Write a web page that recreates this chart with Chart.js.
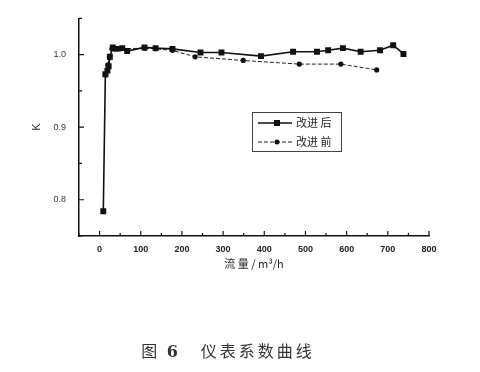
<!DOCTYPE html>
<html>
<head>
<meta charset="utf-8">
<script src="https://cdn.jsdelivr.net/npm/chart.js@4/dist/chart.umd.min.js"></script>
<style>
  body { margin: 0; background: #fff; }
  #wrap { position: relative; width: 480px; height: 372px; }
  #caption {
    position: absolute; left: 0; top: 338px; width: 456px; text-align: center;
    font-family: "Noto Sans CJK SC", sans-serif; font-size: 16px; color: #333; letter-spacing: 3px;
  }
  #caption b { font-family: "DejaVu Serif", serif; }
</style>
</head>
<body>
<div id="wrap">
  <canvas id="kChart" width="480" height="372"></canvas>
  <div id="caption">图 <b>6</b>&nbsp;&nbsp;&nbsp;仪表系数曲线</div>
</div>
<script>
// after improvement (squares, solid)
var afterFlow = [9, 14, 19, 22, 25, 32, 41, 55, 67, 109, 136, 177, 245, 296, 392, 470, 528, 555, 591, 634, 681, 713, 738];
var afterK = [0.784, 0.973, 0.978, 0.984, 0.997, 1.010, 1.008, 1.009, 1.005, 1.010, 1.009, 1.008, 1.003, 1.003, 0.998, 1.004, 1.004, 1.006, 1.009, 1.004, 1.006, 1.013, 1.001];
// before improvement (circles, dashed)
var beforeFlow = [15, 20, 24, 30, 50, 110, 136, 177, 232, 349, 485, 586, 673];
var beforeK = [0.972, 0.986, 0.996, 1.008, 1.008, 1.009, 1.008, 1.006, 0.997, 0.992, 0.987, 0.987, 0.979];

var xTicks = [0, 100, 200, 300, 400, 500, 600, 700, 800];
var xMinor = [-50, 50, 150, 250, 350, 450, 550, 650, 750];
var yTicks = [0.8, 0.9, 1.0];
var yMinor = [0.75, 0.85, 0.95, 1.05];

function pts(xs, ys) {
  return xs.map(function (x, i) { return {x: x, y: ys[i]}; });
}

// inward ticks + boxed legend inside plot
var extras = {
  id: 'extras',
  afterDraw: function (chart) {
    var c = chart.ctx, xs = chart.scales.x, ys = chart.scales.y, a = chart.chartArea;
    c.save();
    c.strokeStyle = '#111';
    c.lineWidth = 1.2;
    c.beginPath();
    xTicks.forEach(function (v) { var p = xs.getPixelForValue(v); c.moveTo(p, a.bottom); c.lineTo(p, a.bottom - 5); });
    xMinor.forEach(function (v) { var p = xs.getPixelForValue(v); c.moveTo(p, a.bottom); c.lineTo(p, a.bottom - 3); });
    yTicks.forEach(function (v) { var p = ys.getPixelForValue(v); c.moveTo(a.left, p); c.lineTo(a.left + 5, p); });
    yMinor.forEach(function (v) { var p = ys.getPixelForValue(v); c.moveTo(a.left, p); c.lineTo(a.left + 3, p); });
    c.stroke();

    // legend box
    var bx = 252, by = 112, bw = 89, bh = 39;
    c.lineWidth = 1;
    c.strokeStyle = '#444';
    c.strokeRect(bx + 0.5, by + 0.5, bw, bh);
    chart.data.datasets.forEach(function (ds, i) {
      var y = by + 11 + i * 19;
      c.strokeStyle = ds.borderColor;
      c.lineWidth = ds.borderWidth;
      c.setLineDash(ds.borderDash || []);
      c.beginPath(); c.moveTo(bx + 6, y); c.lineTo(bx + 40, y); c.stroke();
      c.setLineDash([]);
      c.fillStyle = ds.pointBackgroundColor;
      if (ds.pointStyle === 'rect') {
        c.fillRect(bx + 22, y - 3, 6, 6);
      } else {
        c.beginPath(); c.arc(bx + 25, y, 2.5, 0, Math.PI * 2); c.fill();
      }
      c.fillStyle = '#222';
      c.font = '11px "Noto Sans CJK SC"';
      c.textBaseline = 'middle';
      c.fillText(ds.label, bx + 44, y);
    });
    c.restore();
  }
};

var ctx = document.getElementById('kChart').getContext('2d');
var kChart = new Chart(ctx, {
  type: 'line',
  data: {
    datasets: [{
      label: '改进 后',
      data: pts(afterFlow, afterK),
      borderColor: '#111',
      borderWidth: 1.6,
      pointStyle: 'rect',
      pointRadius: 4.2,
      pointBackgroundColor: '#111',
      pointBorderWidth: 0,
      tension: 0
    }, {
      label: '改进 前',
      data: pts(beforeFlow, beforeK),
      borderColor: '#222',
      borderWidth: 1,
      borderDash: [4, 2],
      pointStyle: 'circle',
      pointRadius: 2.6,
      pointBackgroundColor: '#111',
      pointBorderWidth: 0,
      tension: 0
    }]
  },
  options: {
    responsive: false,
    animation: false,
    layout: {padding: {left: 30, right: 51, top: 7, bottom: 102}},
    plugins: {legend: {display: false}, tooltip: {enabled: false}},
    scales: {
      x: {
        type: 'linear',
        min: -50, max: 800,
        afterBuildTicks: function (s) { s.ticks = xTicks.map(function (v) { return {value: v}; }); },
        grid: {display: false, drawTicks: false},
        border: {display: true, color: '#111', width: 1.5},
        ticks: {font: {family: "Liberation Sans", size: 9, weight: "bold"}, color: '#222', padding: 8, maxRotation: 0},
        title: {display: true, text: '流 量 / m³/h', font: {family: "Noto Sans CJK SC", size: 11}, color: '#222', padding: {top: -6, bottom: 0}}
      },
      y: {
        min: 0.75, max: 1.05,
        afterBuildTicks: function (s) { s.ticks = yTicks.map(function (v) { return {value: v}; }); },
        afterFit: function (s) { s.width = 49; },
        grid: {display: false, drawTicks: false},
        border: {display: true, color: '#111', width: 1.5},
        ticks: {font: {family: "Liberation Sans", size: 9}, color: '#333', padding: 13, callback: function (v) { return v.toFixed(1); }},
        title: {display: true, text: 'K', font: {family: "Liberation Sans", size: 11}, color: '#222', padding: 0}
      }
    }
  },
  plugins: [extras]
});
</script>
</body>
</html>
